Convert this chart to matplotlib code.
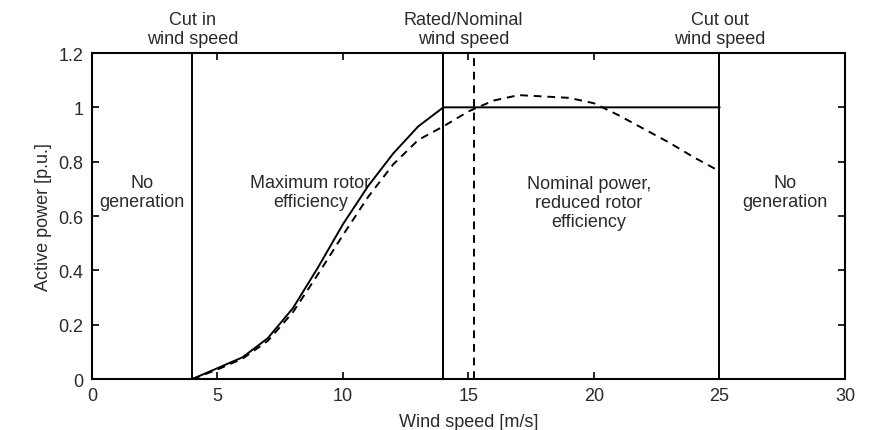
import matplotlib
matplotlib.use("Agg")
import matplotlib.pyplot as plt

plt.rcParams['font.family'] = ['Liberation Sans', 'DejaVu Sans']

# Characteristic wind speeds [m/s]
cut_in = 4
rated = 14
nominal_ref = 15.2
cut_out = 25

# Controlled power curve (solid)
ws_ctrl = [4, 5, 6, 7, 8, 9, 10, 11, 12, 13, 14, 25]
p_ctrl = [0.0, 0.04, 0.08, 0.15, 0.26, 0.41, 0.57, 0.71, 0.83, 0.93, 1.0, 1.0]

# Aerodynamic power curve without limitation (dashed)
ws_aero = [4, 5, 6, 7, 8, 9, 10, 11, 12, 13, 14, 15, 16, 17, 18, 19, 20, 21, 22, 23, 24, 25]
p_aero = [0.0, 0.035, 0.075, 0.14, 0.245, 0.385, 0.53, 0.67, 0.79, 0.88, 0.93, 0.985,
          1.025, 1.045, 1.04, 1.035, 1.015, 0.97, 0.92, 0.87, 0.815, 0.765]

x_ticks = [0, 5, 10, 15, 20, 25, 30]
y_ticks = [0, 0.2, 0.4, 0.6, 0.8, 1.0, 1.2]
y_tick_labels = ['0', '0.2', '0.4', '0.6', '0.8', '1', '1.2']

txt = '#2a2a2a'
fs = 13

fig = plt.figure(figsize=(8.72, 4.31), dpi=100)
ax = fig.add_axes([0.1055, 0.1183, 0.8635, 0.7564])

ax.plot(ws_ctrl, p_ctrl, color='black', lw=1.4, solid_joinstyle='miter')
ax.plot(ws_aero, p_aero, color='black', lw=1.4, ls=(0, (4, 3)))

for xv in (cut_in, rated, cut_out):
    ax.axvline(xv, color='black', lw=1.4)
ax.axvline(nominal_ref, color='black', lw=1.4, ls=(0, (4, 3)))

ax.set_xlim(0, 30)
ax.set_ylim(0, 1.2)
ax.set_xticks(x_ticks)
ax.set_yticks(y_ticks)
ax.set_yticklabels(y_tick_labels)
ax.tick_params(direction='in', length=5, width=1.2, top=True, right=True,
               labelsize=fs, labelcolor=txt, pad=6)
for s in ax.spines.values():
    s.set_linewidth(1.5)

ax.set_xlabel('Wind speed [m/s]', fontsize=fs, color=txt, labelpad=6)
ax.set_ylabel('Active power [p.u.]', fontsize=fs, color=txt, labelpad=5)

# Operating region labels
ls = 1.15
ax.text(2.0, 0.69, 'No\ngeneration', ha='center', va='center', fontsize=fs,
        color=txt, linespacing=ls)
ax.text(8.7, 0.69, 'Maximum rotor\nefficiency', ha='center', va='center',
        fontsize=fs, color=txt, linespacing=ls)
ax.text(19.8, 0.65, 'Nominal power,\nreduced rotor\nefficiency', ha='center',
        va='center', fontsize=fs, color=txt, linespacing=ls)
ax.text(27.6, 0.69, 'No\ngeneration', ha='center', va='center', fontsize=fs,
        color=txt, linespacing=ls)

# Characteristic speed labels above the frame
for xv, label in ((cut_in, 'Cut in\nwind speed'),
                  (14.8, 'Rated/Nominal\nwind speed'),
                  (cut_out, 'Cut out\nwind speed')):
    ax.text(xv, 1.222, label, ha='center', va='bottom', fontsize=fs,
            color=txt, linespacing=ls)

fig.savefig('out.png', dpi=100)
